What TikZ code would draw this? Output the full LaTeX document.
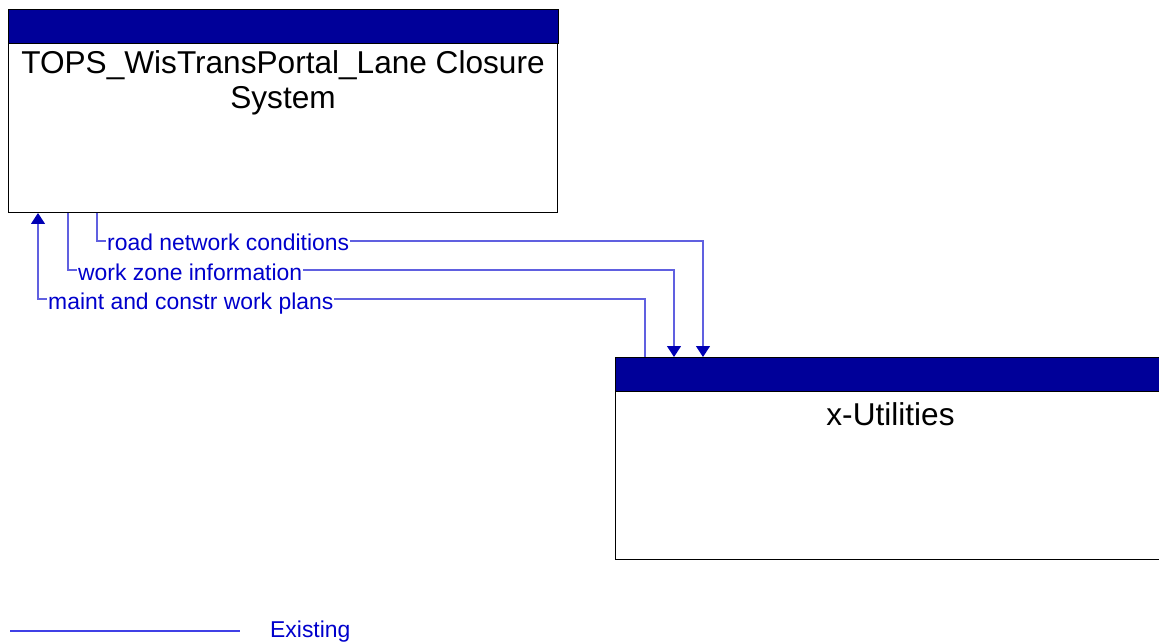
\documentclass[tikz,border=0pt]{standalone}
\usepackage{fontspec}
\setmainfont{Liberation Sans}
\usetikzlibrary{arrows.meta,calc}
\definecolor{hdr}{RGB}{0,0,153}
\definecolor{flow}{RGB}{96,96,224}
\definecolor{flowtxt}{RGB}{0,0,204}
\definecolor{tipcol}{RGB}{0,0,180}
\definecolor{legcol}{RGB}{64,64,230}
\begin{document}
\begin{tikzpicture}[x=1pt,y=-1pt,
  box/.style={draw=black,line width=1pt,fill=white,rectangle,minimum width=549pt,minimum height=202pt,inner sep=0pt,anchor=north west},
  hdrbar/.style={draw=black,line width=1pt,fill=hdr},
  titletext/.style={font=\fontsize{31.6}{35}\selectfont,align=center,inner sep=0pt,anchor=north},
  flowline/.style={draw=flow,line width=1.2pt},
  flowtip/.style={flowline,-{Triangle[width=14pt,length=11pt,color=tipcol]}},
  flowtipback/.style={flowline,{Triangle[width=14pt,length=11pt,color=tipcol]}-},
  flowlabel/.style={font=\fontsize{22.9}{26}\selectfont,text=flowtxt,fill=white,inner xsep=1pt,inner ysep=0pt,anchor=base west},
  legline/.style={draw=legcol,line width=1.2pt}]
\useasboundingbox (0,0) rectangle (1159,644);
\clip (0,0) rectangle (1159,644);
% boxes
\node[box] (a) at (8,10) {};
\node[box,minimum width=550pt] (b) at (615,357) {};
\draw[hdrbar] (a.north west) rectangle ($(a.north east)+(0,34)$);
\draw[hdrbar] (b.north west) rectangle ($(b.north east)+(0,34)$);
\node[titletext] (at) at ($(a.north)+(0,40.5)$) {TOPS\_WisTransPortal\_Lane Closure\\System};
\node[titletext] (bt) at ($(b.north)+(0,45.5)$) {x-Utilities};
% flows
\draw[flowtip] ($(a.south west)+(89,0)$) |- ($(b.north west)+(88,-116)$) -- ($(b.north west)+(88,0)$);
\draw[flowtip] ($(a.south west)+(60,0)$) |- ($(b.north west)+(59,-87)$) -- ($(b.north west)+(59,0)$);
\draw[flowtipback] ($(a.south west)+(30,0)$) |- ($(b.north west)+(30,-58)$) -- ($(b.north west)+(30,0)$);
\node[flowlabel] (l1) at ($(a.south west)+(98,38)$) {road network conditions};
\node[flowlabel] (l2) at ($(a.south west)+(69,67)$) {work zone information};
\node[flowlabel] (l3) at ($(a.south west)+(39,96)$) {maint and constr work plans};
% legend
\coordinate (lg0) at (10,631);
\coordinate (lg1) at (240,631);
\draw[legline] (lg0) -- (lg1);
\node[font=\fontsize{22.9}{26}\selectfont,text=flowtxt,inner sep=0pt,anchor=base west] (lgt) at (270,637) {Existing};
\end{tikzpicture}
\end{document}
